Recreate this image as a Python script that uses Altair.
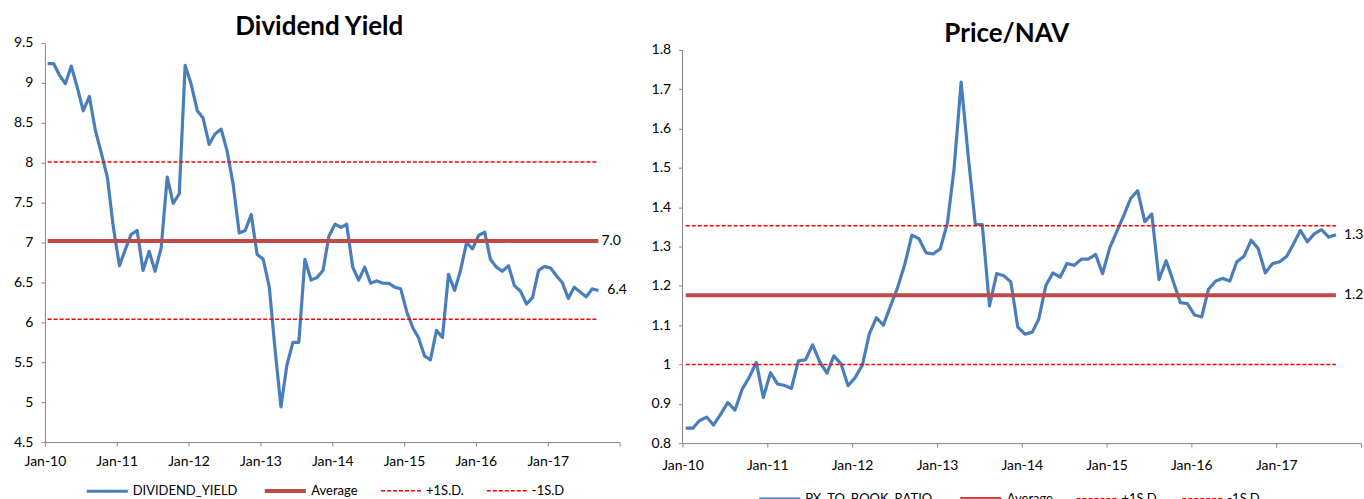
import altair as alt
import pandas as pd

# ---------------- data ----------------
N_POINTS = 93  # monthly, Jan-10 .. Sep-17
DATES = [f"{2010 + i // 12}-{i % 12 + 1:02d}-15T00:00:00" for i in range(N_POINTS)]

DIV_YIELD = [
    9.24, 9.24, 9.10, 8.99, 9.21, 8.94, 8.65, 8.83, 8.40, 8.12,
    7.81, 7.19, 6.71, 6.92, 7.10, 7.15, 6.65, 6.89, 6.64, 6.93,
    7.82, 7.49, 7.61, 9.22, 8.98, 8.65, 8.56, 8.23, 8.36, 8.42,
    8.15, 7.73, 7.12, 7.15, 7.35, 6.85, 6.79, 6.44, 5.69, 4.94,
    5.46, 5.75, 5.75, 6.79, 6.53, 6.56, 6.65, 7.08, 7.23, 7.19,
    7.23, 6.69, 6.53, 6.69, 6.49, 6.52, 6.49, 6.49, 6.44, 6.42,
    6.13, 5.93, 5.81, 5.58, 5.53, 5.90, 5.81, 6.60, 6.40, 6.65,
    7.00, 6.92, 7.09, 7.13, 6.79, 6.69, 6.64, 6.71, 6.46, 6.39,
    6.23, 6.31, 6.65, 6.70, 6.68, 6.58, 6.50, 6.30, 6.44, 6.38,
    6.32, 6.42, 6.40,
]

PB_RATIO = [
    0.838, 0.838, 0.857, 0.866, 0.846, 0.874, 0.903, 0.884, 0.937, 0.967,
    1.005, 0.916, 0.979, 0.950, 0.947, 0.939, 1.009, 1.012, 1.050, 1.007,
    0.978, 1.022, 1.001, 0.946, 0.967, 0.999, 1.077, 1.119, 1.100, 1.149,
    1.195, 1.254, 1.329, 1.320, 1.284, 1.281, 1.294, 1.360, 1.495, 1.718,
    1.533, 1.356, 1.356, 1.149, 1.231, 1.226, 1.210, 1.095, 1.077, 1.082,
    1.115, 1.201, 1.233, 1.222, 1.257, 1.252, 1.268, 1.268, 1.280, 1.231,
    1.297, 1.339, 1.377, 1.422, 1.442, 1.363, 1.383, 1.216, 1.264, 1.212,
    1.157, 1.155, 1.126, 1.121, 1.191, 1.212, 1.219, 1.212, 1.261, 1.275,
    1.316, 1.295, 1.233, 1.256, 1.261, 1.275, 1.305, 1.341, 1.312, 1.333,
    1.343, 1.324, 1.330,
]

DY_AVG, DY_UP, DY_DN = 7.02, 8.01, 6.04
PB_AVG, PB_UP, PB_DN = 1.176, 1.353, 1.00

DY_TICKS = [4.5, 5.0, 5.5, 6.0, 6.5, 7.0, 7.5, 8.0, 8.5, 9.0, 9.5]
PB_TICKS = [0.8, 0.9, 1.0, 1.1, 1.2, 1.3, 1.4, 1.5, 1.6, 1.7, 1.8]
YEARS = list(range(2010, 2019))

STAT_NAMES = ["Average", "+1S.D.", "-1S.D"]

# ---------------- style ----------------
BLUE = "#4A7EBB"
AVG_RED = "#BE4B48"
SD_RED = "#FF0000"
AXIS_GREY = "#868686"
FONT = "Lato"


def panel(name, values, avg, up, dn, yticks, ytop, title, title_dx,
          title_offset, width, height, legend_x, legend_y, avg_dx, last_dx,
          manual_domain, x_label_pad):
    rows = [{"series": name, "date": d, "value": v} for d, v in zip(DATES, values)]
    for s, val in zip(STAT_NAMES, [avg, up, dn]):
        rows.append({"series": s, "date": DATES[0], "value": val})
        rows.append({"series": s, "date": DATES[-1], "value": val})
    df = pd.DataFrame(rows)

    domain = [name] + STAT_NAMES
    legend = alt.Legend(
        orient="none", legendX=legend_x, legendY=legend_y,
        direction="horizontal", title=None, symbolType="stroke",
        symbolSize=1700, labelFont=FONT, labelFontSize=13,
        labelColor="#000000", columnPadding=19, labelOffset=3,
        labelLimit=300,
    )

    x_scale = alt.Scale(domain=[alt.DateTime(year=2010, month=1, date=1),
                                alt.DateTime(year=2018, month=1, date=1)])
    x_axis = alt.Axis(
        values=[alt.DateTime(year=y, month=1, date=1) for y in YEARS],
        format="%b-%y",
        labelExpr="year(datum.value) >= 2018 ? '' : timeFormat(datum.value, '%b-%y')",
        grid=False, domainColor=AXIS_GREY, tickColor=AXIS_GREY,
        tickSize=4, labelFont=FONT, labelFontSize=14, labelColor="#000000",
        labelPadding=x_label_pad, title=None, labelFlush=False,
        labelOverlap=False,
    )
    y_scale = alt.Scale(domain=[yticks[0], ytop], nice=False, zero=False)
    y_axis = alt.Axis(
        values=yticks, format="~g", grid=False, domain=not manual_domain,
        domainColor=AXIS_GREY, tickColor=AXIS_GREY, tickSize=4,
        labelFont=FONT, labelFontSize=14, labelColor="#000000",
        labelPadding=8, title=None, labelOverlap=False, labelFlush=False,
    )

    def xe(field="date"):
        return alt.X(f"{field}:T", scale=x_scale, axis=x_axis)

    def ye(field="value"):
        return alt.Y(f"{field}:Q", scale=y_scale, axis=y_axis)

    lines = alt.Chart(df).mark_line(strokeCap="butt", strokeJoin="round").encode(
        x=xe(),
        y=ye(),
        color=alt.Color("series:N", sort=domain,
                        scale=alt.Scale(domain=domain,
                                        range=[BLUE, AVG_RED, SD_RED, SD_RED]),
                        legend=legend),
        strokeDash=alt.StrokeDash("series:N", sort=domain,
                                  scale=alt.Scale(domain=domain,
                                                  range=[[1, 0], [1, 0], [4, 2], [4, 2]]),
                                  legend=legend),
        strokeWidth=alt.StrokeWidth("series:N", sort=domain,
                                    scale=alt.Scale(type="ordinal", domain=domain,
                                                    range=[3.2, 4, 1.5, 1.5]),
                                    legend=legend),
        detail="series:N",
    )

    lab_avg = pd.DataFrame([{"date": DATES[-1], "value": avg,
                             "label": f"{avg:.1f}"}])
    lab_last = pd.DataFrame([{"date": DATES[-1], "value": values[-1],
                              "label": f"{values[-1]:.1f}"}])
    t_avg = alt.Chart(lab_avg).mark_text(
        align="left", baseline="middle", dx=avg_dx, font=FONT, fontSize=14,
        color="#000000").encode(x=xe(), y=ye(), text="label:N")
    t_last = alt.Chart(lab_last).mark_text(
        align="left", baseline="middle", dx=last_dx, font=FONT, fontSize=14,
        color="#000000").encode(x=xe(), y=ye(), text="label:N")

    layers = [lines, t_avg, t_last]
    if manual_domain:
        axis_df = pd.DataFrame([{"value": yticks[0], "hi": yticks[-1]}])
        axis_line = alt.Chart(axis_df).mark_rule(color=AXIS_GREY, strokeWidth=1).encode(
            x=alt.value(0), y=ye(), y2="hi:Q")
        layers.append(axis_line)

    return alt.layer(*layers).properties(
        width=width, height=height,
        title=alt.Title(title, font=FONT, fontSize=26, fontWeight="bold",
                        color="#000000", anchor="middle", dx=title_dx,
                        offset=title_offset),
    )


left = panel("DIVIDEND_YIELD", DIV_YIELD, DY_AVG, DY_UP, DY_DN, DY_TICKS, 9.5,
             "Dividend Yield", -13, -4.3, 576, 400, 40, 426, 3, 9, False, 8)
# right plot starts ~6.6 px lower: extend its scale above 1.8 instead
right = panel("PX_TO_BOOK_RATIO", PB_RATIO, PB_AVG, PB_UP, PB_DN, PB_TICKS,
              0.8 + 401 / 394, "Price/NAV", -15, -4.3, 680, 401, 75, 434, 8, 8,
              True, 11)

chart = alt.hconcat(left, right, spacing=23).resolve_scale(
    color="independent", strokeDash="independent", strokeWidth="independent",
    x="independent", y="independent",
).resolve_legend(
    color="independent", strokeDash="independent", strokeWidth="independent",
).configure_view(stroke=None).properties(
    padding={"left": 13, "top": 13.5, "right": 0, "bottom": 0},
)

chart.save("out.html", embed_options={"renderer": "svg", "actions": False})
